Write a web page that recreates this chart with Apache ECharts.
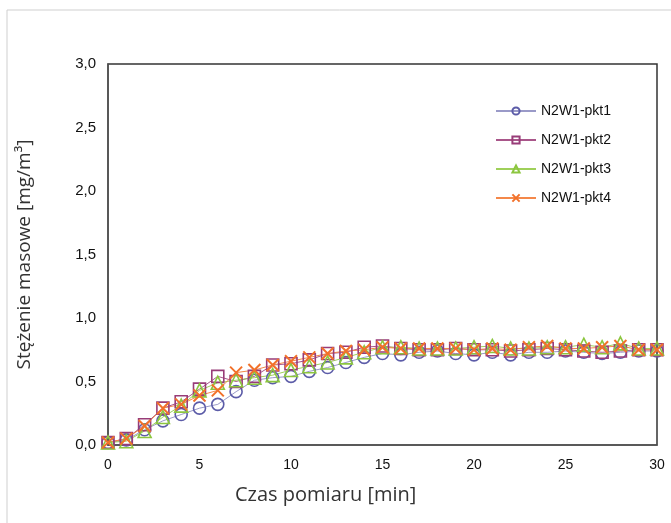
<!DOCTYPE html>
<html>
<head>
<meta charset="utf-8">
<script src="https://cdn.jsdelivr.net/npm/echarts@6/dist/echarts.min.js"></script>
<style>
  html, body { margin: 0; padding: 0; background: #fff; }
  #chart { width: 671px; height: 523px; }
</style>
</head>
<body>
<div id="chart"></div>
<script>
// czas pomiaru [min]
var minutes = [];
for (var i = 0; i <= 30; i++) minutes.push(i);

var seriesNames = ['N2W1-pkt1', 'N2W1-pkt2', 'N2W1-pkt3', 'N2W1-pkt4'];

var pkt1 = [0.02, 0.04, 0.12, 0.19, 0.24, 0.29, 0.32, 0.42, 0.51, 0.53, 0.54, 0.58, 0.61, 0.65, 0.69, 0.72,
  0.71, 0.73, 0.74, 0.72, 0.71, 0.73, 0.71, 0.73, 0.73, 0.74, 0.73, 0.72, 0.73, 0.74, 0.74];
var pkt2 = [0.02, 0.05, 0.16, 0.29, 0.34, 0.44, 0.54, 0.50, 0.54, 0.63, 0.64, 0.67, 0.72, 0.73, 0.77, 0.78,
  0.76, 0.75, 0.75, 0.76, 0.75, 0.75, 0.74, 0.75, 0.76, 0.75, 0.74, 0.73, 0.74, 0.75, 0.75];
var pkt3 = [0.02, 0.03, 0.11, 0.22, 0.31, 0.43, 0.49, 0.51, 0.53, 0.55, 0.59, 0.62, 0.65, 0.69, 0.73, 0.77,
  0.77, 0.76, 0.76, 0.76, 0.77, 0.78, 0.76, 0.76, 0.77, 0.77, 0.79, 0.77, 0.80, 0.76, 0.76];
var pkt4 = [0.02, 0.05, 0.15, 0.29, 0.32, 0.39, 0.43, 0.57, 0.59, 0.63, 0.66, 0.69, 0.72, 0.74, 0.75, 0.77,
  0.76, 0.76, 0.76, 0.76, 0.75, 0.76, 0.75, 0.77, 0.78, 0.76, 0.76, 0.77, 0.78, 0.75, 0.75];

var markerColors = ['#5c5ca8', '#983c78', '#8cc63f', '#f2712a'];
var lineColors = ['#9a9ac8', '#a9568a', '#9fd05a', '#f4884a'];
var symbols = ['circle', 'rect', 'triangle', 'path://M0,0L10,10M10,0L0,10'];

function toPairs(values) {
  return minutes.map(function (m, idx) { return [m, values[idx]]; });
}

function makeSeries(name, values, idx) {
  return {
    name: name,
    type: 'line',
    data: toPairs(values),
    symbol: symbols[idx],
    symbolSize: idx === 2 ? 13 : 12,
    showAllSymbol: true,
    lineStyle: { color: lineColors[idx], width: 1 },
    itemStyle: {
      color: idx === 3 ? markerColors[idx] : 'rgba(255,255,255,0)',
      borderColor: markerColors[idx],
      borderWidth: idx === 3 ? 2 : 1.6
    },
    emphasis: { disabled: true },
    animation: false
  };
}

var chart = echarts.init(document.getElementById('chart'));

chart.setOption({
  backgroundColor: '#fff',
  textStyle: { fontFamily: 'Liberation Sans, Arial, sans-serif' },
  grid: {
    left: 108,
    top: 64,
    right: 14,
    bottom: 78,
    show: true,
    borderColor: '#333',
    borderWidth: 1.5
  },
  legend: {
    orient: 'vertical',
    left: 490,
    top: 99,
    itemWidth: 40,
    itemHeight: 9,
    itemGap: 15,
    textStyle: { color: '#111', fontSize: 14 },
    data: seriesNames
  },
  xAxis: {
    type: 'value',
    min: 0,
    max: 30,
    interval: 5,
    axisLine: { show: true, lineStyle: { color: '#555', width: 1.5 } },
    axisTick: { show: false },
    splitLine: { show: false },
    axisLabel: { color: '#111', fontSize: 14, margin: 13 }
  },
  yAxis: {
    type: 'value',
    min: 0,
    max: 3,
    interval: 0.5,
    name: 'Stężenie masowe [mg/m³]',
    nameLocation: 'middle',
    nameGap: 74,
    nameTextStyle: { color: '#333', fontSize: 19, fontFamily: 'Open Sans' },
    axisLine: { show: true, lineStyle: { color: '#555', width: 1.5 } },
    axisTick: { show: false },
    splitLine: { show: false },
    axisLabel: {
      color: '#111',
      fontSize: 15,
      margin: 12,
      formatter: function (v) { return v.toFixed(1).replace('.', ','); }
    }
  },
  graphic: [
    {
      type: 'rect',
      shape: { x: 7, y: 10, width: 700, height: 600 },
      style: { fill: 'none', stroke: '#cfcfcf', lineWidth: 1 },
      silent: true
    },
    {
      type: 'text',
      left: 235,
      top: 485,
      style: {
        text: 'Czas pomiaru [min]',
        fill: '#333',
        font: '20px "Open Sans"'
      }
    }
  ],
  series: [
    makeSeries(seriesNames[0], pkt1, 0),
    makeSeries(seriesNames[1], pkt2, 1),
    makeSeries(seriesNames[2], pkt3, 2),
    makeSeries(seriesNames[3], pkt4, 3)
  ]
});
</script>
</body>
</html>
